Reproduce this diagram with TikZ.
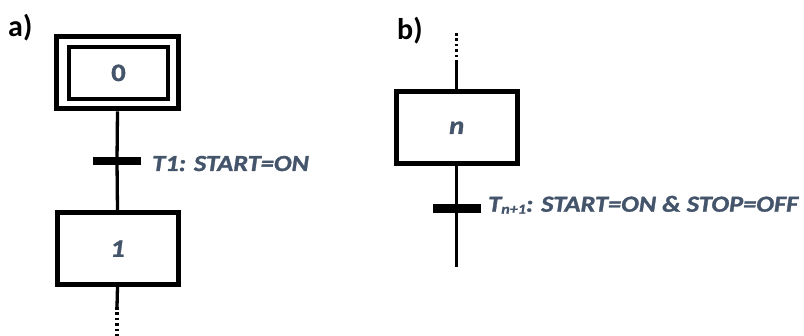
\documentclass[tikz,border=0pt]{standalone}
\usepackage{fontspec}
\setmainfont{Carlito}
\newfontfamily\labelfont[FakeStretch=1.15, FakeBold=1.3]{Carlito}
\definecolor{txtblue}{HTML}{44546A}

\begin{document}
\begin{tikzpicture}[x=1pt,y=-1pt,
  stepbox/.style={draw, line width=5pt, minimum width=121pt, minimum height=72pt,
    inner sep=0pt, text=txtblue,
    font=\labelfont\bfseries\fontsize{25}{26}\selectfont},
  innerbox/.style={draw, line width=4.2pt, minimum width=99.5pt, minimum height=51.5pt,
    inner sep=0pt, text=txtblue,
    font=\labelfont\bfseries\fontsize{25}{26}\selectfont},
  flow/.style={line width=3.3pt},
  dotflow/.style={line width=3.3pt, dash pattern=on 2.7pt off 2.7pt},
  trbar/.style={fill=black, minimum width=48pt, minimum height=8.5pt, inner sep=0pt},
  trlabel/.style={anchor=base west, inner sep=0pt, text=txtblue,
    font=\labelfont\bfseries\itshape\fontsize{23}{24}\selectfont},
  tag/.style={anchor=base west, inner sep=0pt,
    font=\bfseries\fontsize{30}{32}\selectfont}
]
\useasboundingbox (0,0) rectangle (804,336);

% ---- a) initial step, transition T1, step 1
\node[tag] (taga) at (8,36.7) {a)};
\node[stepbox, minimum width=121.4pt, minimum height=72.6pt] (s0) at (117.5,72.5) {};
\node[innerbox] (s0in) at (118.5,72.9) {0};
\node[stepbox] (s1) at (117.5,248.7) {\itshape 1};
\node[trbar] (t1) at (117,161) {};
\node[trlabel] (t1lbl) at (152,171) {T1: START=ON};
\coordinate (a1) at (117,307);
\coordinate (a2) at (117,336);

\draw[flow] (s0.south) -- (t1.center) -- (s1.north);
\draw[flow] (s1.south) -- (a1);
\draw[dotflow] (a1) -- (a2);

% ---- b) generic step n and transition T(n+1)
\node[tag] (tagb) at (397,40) {b)};
\node[stepbox] (sn) at (456.7,127.7) {\itshape n};
\node[trbar] (tn) at (456.7,208.5) {};
\node[trlabel] (tnlbl) at (488,211.7)
  {T\raisebox{-2pt}{\fontsize{14}{14}\selectfont n+1}: START=ON \& STOP=OFF};
\coordinate (b0) at (456.7,33);
\coordinate (b1) at (456.7,62);
\coordinate (b2) at (456.7,266.7);

\draw[dotflow] (b0) -- (b1);
\draw[flow] (b1) -- (sn.north);
\draw[flow] (sn.south) -- (tn.center) -- (b2);
\end{tikzpicture}
\end{document}
